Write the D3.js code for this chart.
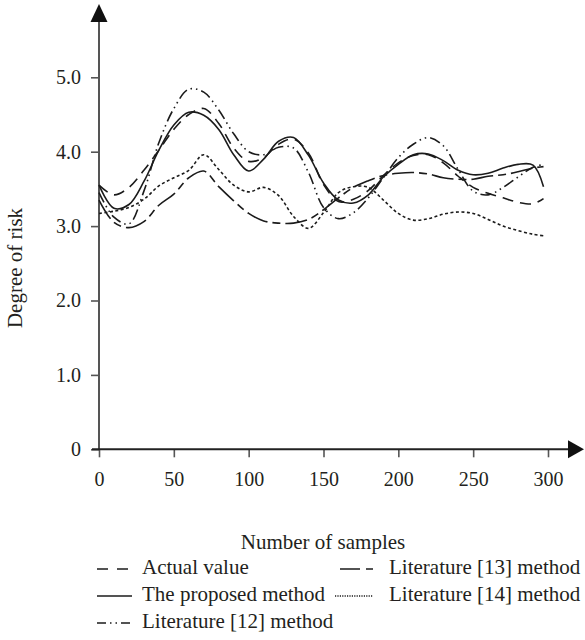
<!DOCTYPE html>
<html>
<head>
<meta charset="utf-8">
<script src="https://cdn.jsdelivr.net/npm/d3@7"></script>
<style>
  html, body { margin: 0; padding: 0; background: #fff; }
  svg { display: block; }
  text { font-family: "Liberation Serif", "Times New Roman", serif; fill: #231f20; }
</style>
</head>
<body>
<svg id="chart" width="585" height="640"></svg>
<script>
// ---- data ----
const samples = [0,10,20,30,40,50,60,70,80,90,100,110,120,130,140,150,160,170,180,190,200,210,220,230,240,250,260,270,280,290,297];

const actualValue    = [3.55,3.42,3.52,3.75,4.02,4.30,4.50,4.58,4.38,4.05,3.87,3.92,4.10,4.17,3.98,3.56,3.33,3.36,3.48,3.68,3.85,3.95,3.96,3.85,3.67,3.52,3.44,3.38,3.32,3.30,3.37];
const proposedMethod = [3.55,3.24,3.29,3.60,4.02,4.36,4.53,4.49,4.30,3.96,3.74,3.90,4.14,4.19,3.95,3.58,3.35,3.31,3.42,3.66,3.83,3.96,3.97,3.88,3.75,3.69,3.71,3.78,3.83,3.82,3.53];
const literature12   = [3.45,3.12,3.03,3.47,4.12,4.58,4.84,4.80,4.56,4.24,4.00,3.96,4.06,4.05,3.72,3.25,3.10,3.18,3.38,3.65,3.92,4.10,4.19,4.08,3.76,3.47,3.42,3.52,3.66,3.79,3.83];
const literature13   = [3.35,3.05,2.98,3.06,3.28,3.43,3.65,3.74,3.53,3.34,3.17,3.07,3.04,3.04,3.09,3.22,3.38,3.52,3.61,3.68,3.71,3.72,3.70,3.65,3.63,3.63,3.67,3.69,3.73,3.78,3.80];
const literature14   = [3.17,3.20,3.25,3.36,3.54,3.65,3.75,3.96,3.76,3.55,3.46,3.52,3.41,3.13,2.97,3.18,3.45,3.53,3.52,3.35,3.17,3.08,3.10,3.16,3.19,3.17,3.09,3.00,2.94,2.89,2.87];

const xTickValues = [0,50,100,150,200,250,300];
const yTickValues = [0,1,2,3,4,5];
const yTickLabels = ["0","1.0","2.0","3.0","4.0","5.0"];

const seriesNames = ["Actual value","The proposed method","Literature [12] method","Literature [13] method","Literature [14] method"];
const seriesValues = [actualValue, proposedMethod, literature12, literature13, literature14];

// ---- styles ----
const dashes = ["11,7", null, "11,4,1.5,4,1.5,4", "22,5,8,5", "3,2.5"];
const legendDashes = ["11,9", null, "9,4,1.5,4,1.5,4", "20,6,7,6", "1.2,1.2"];

const svg = d3.select("#chart");
const x = d3.scaleLinear().domain([0,300]).range([99,548]);
const y = d3.scaleLinear().domain([0,5]).range([449.3,77.3]);
const axisColor = "#555";
const lineColor = "#1b1b1b";
const tickFont = 20;
const textFont = 21;

// axes
const gx = svg.append("g").attr("transform", `translate(0,${y(0)})`)
  .call(d3.axisBottom(x).tickValues(xTickValues).tickSize(8).tickSizeOuter(0).tickPadding(15).tickFormat(d3.format("d")));
gx.select(".domain").remove();
gx.selectAll(".tick line").attr("stroke", axisColor).attr("stroke-width", 1.6);
gx.selectAll(".tick text").attr("font-size", tickFont).attr("font-family", null);

const gy = svg.append("g").attr("transform", `translate(${x(0)},0)`)
  .call(d3.axisLeft(y).tickValues(yTickValues).tickSize(8).tickSizeOuter(0).tickPadding(10)
    .tickFormat((d,i) => yTickLabels[i]));
gy.select(".domain").remove();
gy.selectAll(".tick line").attr("stroke", axisColor).attr("stroke-width", 1.6);
gy.selectAll(".tick text").attr("font-size", tickFont).attr("font-family", null);

// axis lines with arrows
svg.append("line").attr("x1", x(0)).attr("x2", x(0)).attr("y1", y(0) + 1).attr("y2", 16)
  .attr("stroke", axisColor).attr("stroke-width", 2);
svg.append("line").attr("x1", x(0) - 7).attr("x2", 574).attr("y1", y(0)).attr("y2", y(0))
  .attr("stroke", "#222").attr("stroke-width", 2);
svg.append("path").attr("d", `M${x(0)},4 L${x(0)-8.5},22 L${x(0)+8.5},22 Z`).attr("fill", "#111");
svg.append("path").attr("d", `M584,${y(0)} L568,${y(0)-9} L568,${y(0)+9} Z`).attr("fill", "#111");

// lines
const line = d3.line()
  .x((d,i) => x(samples[i]))
  .y(d => y(d))
  .curve(d3.curveCatmullRom.alpha(0.5));

seriesValues.forEach((vals, k) => {
  svg.append("path")
    .datum(vals)
    .attr("d", line)
    .attr("fill", "none")
    .attr("stroke", lineColor)
    .attr("stroke-width", 1.6)
    .attr("stroke-dasharray", dashes[k]);
});

// axis titles
svg.append("text").attr("x", 323).attr("y", 549).attr("text-anchor", "middle")
  .attr("font-size", textFont).text("Number of samples");
svg.append("text").attr("transform", "translate(22,268) rotate(-90)").attr("text-anchor", "middle")
  .attr("font-size", textFont).text("Degree of risk");

// legend
const legendPos = [
  {sx: 97, ex: 132, tx: 142, y: 574},
  {sx: 97, ex: 132, tx: 142, y: 601},
  {sx: 97, ex: 132, tx: 142, y: 628},
  {sx: 340, ex: 373, tx: 389, y: 574},
  {sx: 335, ex: 373, tx: 389, y: 601}
];
seriesNames.forEach((name, k) => {
  const p = legendPos[k];
  svg.append("line").attr("x1", p.sx).attr("x2", p.ex).attr("y1", p.y - 5).attr("y2", p.y - 5)
    .attr("stroke", lineColor).attr("stroke-width", 1.4).attr("stroke-dasharray", legendDashes[k]);
  svg.append("text").attr("x", p.tx).attr("y", p.y).attr("font-size", textFont).text(name);
});
</script>
</body>
</html>
